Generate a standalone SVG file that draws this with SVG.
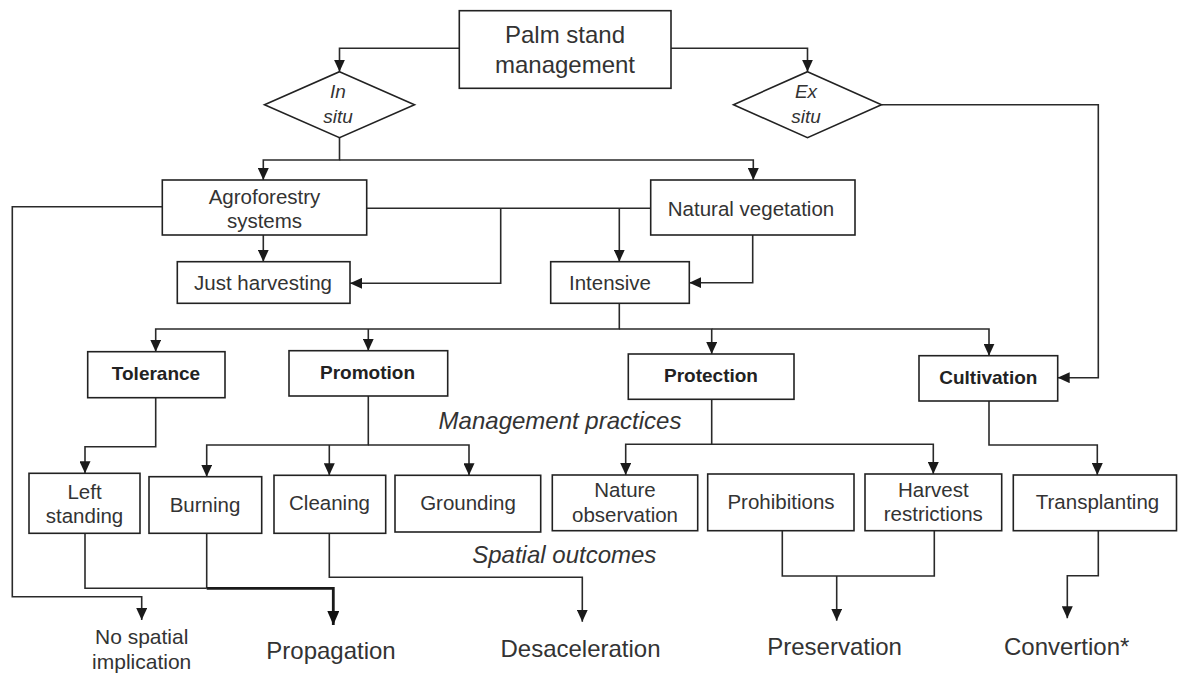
<svg xmlns="http://www.w3.org/2000/svg" width="1178" height="673" viewBox="0 0 1178 673">
<style>
  .box { fill: #ffffff; stroke: #222222; stroke-width: 1.6; }
  .t { font-family: "Liberation Sans", Arial, sans-serif; font-size: 20.5px; fill: #333333; text-anchor: middle; dominant-baseline: central; }
  .big { font-size: 24px; }
  .b { font-weight: bold; font-size: 19px; fill: #222222; }
  .it { font-style: italic; }
  .dm { font-size: 19px; }
  .lbl { font-size: 24px; font-style: italic; }
  .out { font-size: 24px; }
  .ns { font-size: 21px; }
  .c { fill: none; stroke: #2a2a2a; stroke-width: 1.6; }
  .ck { fill: none; stroke: #1a1a1a; stroke-width: 2.8; }
</style>
<defs>
  <marker id="ah" markerUnits="userSpaceOnUse" markerWidth="12" markerHeight="11" refX="12" refY="5.5" orient="auto">
    <path d="M0,0 L12,5.5 L0,11 z" fill="#1a1a1a"/>
  </marker>
  <marker id="ahk" markerUnits="userSpaceOnUse" markerWidth="14" markerHeight="12" refX="14" refY="6" orient="auto">
    <path d="M0,0 L14,6 L0,12 z" fill="#111111"/>
  </marker>
</defs>
<rect width="1178" height="673" fill="#ffffff"/>

<g id="connectors">
  <path class="c" d="M459.3,48.3 H339.5 V71.7" marker-end="url(#ah)"/>
  <path class="c" d="M671,48.3 H807.5 V71.7" marker-end="url(#ah)"/>
  <path class="c" d="M339.5,137.7 V160 H263.3 V180" marker-end="url(#ah)"/>
  <path class="c" d="M339.5,160 H753.3 V180" marker-end="url(#ah)"/>
  <path class="c" d="M881.5,104.7 H1098.3 V377.7 H1057.7" marker-end="url(#ah)"/>
  <path class="c" d="M263.3,235 V261.7" marker-end="url(#ah)"/>
  <path class="c" d="M162.3,206.7 H12.3 V596.7 H141.7 V620" marker-end="url(#ah)"/>
  <path class="c" d="M366.7,208.3 H650.7"/>
  <path class="c" d="M500.7,208.3 V283.3 H350" marker-end="url(#ah)"/>
  <path class="c" d="M619.3,208.3 V261.7" marker-end="url(#ah)"/>
  <path class="c" d="M752.7,235 V282.7 H689.3" marker-end="url(#ah)"/>
  <path class="c" d="M619.3,303.3 V329 H155.7 V351.7" marker-end="url(#ah)"/>
  <path class="c" d="M368.3,329 V350.7" marker-end="url(#ah)"/>
  <path class="c" d="M619.3,329 H711.7 V354" marker-end="url(#ah)"/>
  <path class="c" d="M711.7,329 H989 V355.7" marker-end="url(#ah)"/>
  <path class="c" d="M155.7,397.7 V446.7 H85 V473.3" marker-end="url(#ah)"/>
  <path class="c" d="M368.3,396 V445 H206.7 V476.7" marker-end="url(#ah)"/>
  <path class="c" d="M329.3,445 V475.3" marker-end="url(#ah)"/>
  <path class="c" d="M368.3,445 H469 V475.3" marker-end="url(#ah)"/>
  <path class="c" d="M711.7,399.3 V444.3 H625.7 V475" marker-end="url(#ah)"/>
  <path class="c" d="M711.7,444.3 H933.3 V474" marker-end="url(#ah)"/>
  <path class="c" d="M989,401 V445 H1097.3 V475" marker-end="url(#ah)"/>
  <path class="c" d="M85,533.3 V588.3 H206.7"/>
  <path class="c" d="M206.7,533.3 V588.3"/>
  <path class="ck" d="M206.7,588.3 H333.3 V625" marker-end="url(#ahk)"/>
  <path class="c" d="M329.3,533.3 V577.3 H582.3 V621.7" marker-end="url(#ah)"/>
  <path class="c" d="M782.3,530.7 V576 H934.3 V530.7"/>
  <path class="c" d="M836.7,576 V620.7" marker-end="url(#ah)"/>
  <path class="c" d="M1098.3,530.7 V575.7 H1067.3 V618.3" marker-end="url(#ah)"/>
</g>

<g id="palm">
  <rect class="box" x="459.3" y="10.7" width="211.7" height="77.6"/>
  <text class="t big" x="565" y="34.3">Palm stand</text>
  <text class="t big" x="565" y="64.3">management</text>
</g>
<g id="insitu">
  <polygon class="box" points="339.5,71.7 414.5,104.7 339.5,137.7 264.5,104.7"/>
  <text class="t it dm" x="338" y="91.7">In</text>
  <text class="t it dm" x="338" y="116.7">situ</text>
</g>
<g id="exsitu">
  <polygon class="box" points="807.5,71.7 881.5,104.7 807.5,137.7 733.5,104.7"/>
  <text class="t it dm" x="806" y="91.7">Ex</text>
  <text class="t it dm" x="806" y="116.7">situ</text>
</g>
<g id="agroforestry">
  <rect class="box" x="162.3" y="180" width="204.4" height="55"/>
  <text class="t" x="264.5" y="196">Agroforestry</text>
  <text class="t" x="264.5" y="220">systems</text>
</g>
<g id="natural">
  <rect class="box" x="650.7" y="180" width="204.3" height="55"/>
  <text class="t" x="751" y="208.3">Natural vegetation</text>
</g>
<g id="justharvesting">
  <rect class="box" x="177.3" y="261.7" width="172.7" height="41.6"/>
  <text class="t" x="263" y="282">Just harvesting</text>
</g>
<g id="intensive">
  <rect class="box" x="550.7" y="261.7" width="138.6" height="41.6"/>
  <text class="t" x="610" y="282">Intensive</text>
</g>
<g id="tolerance">
  <rect class="box" x="87.7" y="351.7" width="137.3" height="46"/>
  <text class="t b" x="156" y="373.5">Tolerance</text>
</g>
<g id="promotion">
  <rect class="box" x="289" y="350.7" width="158.7" height="45.3"/>
  <text class="t b" x="367.5" y="372.5">Promotion</text>
</g>
<g id="protection">
  <rect class="box" x="628.3" y="354" width="165.7" height="45.3"/>
  <text class="t b" x="711" y="375.5">Protection</text>
</g>
<g id="cultivation">
  <rect class="box" x="919" y="355.7" width="138.7" height="45.3"/>
  <text class="t b" x="988.3" y="377">Cultivation</text>
</g>
<g id="label-practices">
  <text class="t lbl" x="560" y="420.7">Management practices</text>
</g>
<g id="leftstanding">
  <rect class="box" x="29" y="473.3" width="111" height="60"/>
  <text class="t" x="84.5" y="491">Left</text>
  <text class="t" x="84.5" y="515">standing</text>
</g>
<g id="burning">
  <rect class="box" x="149" y="476.7" width="112.7" height="56.6"/>
  <text class="t" x="205" y="504">Burning</text>
</g>
<g id="cleaning">
  <rect class="box" x="274" y="475.3" width="111.7" height="58"/>
  <text class="t" x="329.5" y="502.7">Cleaning</text>
</g>
<g id="grounding">
  <rect class="box" x="395" y="475.3" width="145.7" height="56.7"/>
  <text class="t" x="468" y="502.7">Grounding</text>
</g>
<g id="natureobs">
  <rect class="box" x="552.3" y="475" width="145.4" height="55.7"/>
  <text class="t" x="625" y="489.3">Nature</text>
  <text class="t" x="625" y="514">observation</text>
</g>
<g id="prohibitions">
  <rect class="box" x="707.7" y="474" width="146.3" height="56.7"/>
  <text class="t" x="781" y="501.7">Prohibitions</text>
</g>
<g id="harvestrestrictions">
  <rect class="box" x="865" y="474" width="136.7" height="56.7"/>
  <text class="t" x="933.3" y="489.3">Harvest</text>
  <text class="t" x="933.3" y="513.3">restrictions</text>
</g>
<g id="transplanting">
  <rect class="box" x="1013.3" y="475" width="163.2" height="55.7"/>
  <text class="t" x="1097.5" y="501.7">Transplanting</text>
</g>
<g id="label-outcomes">
  <text class="t lbl" x="564.3" y="554">Spatial outcomes</text>
</g>
<g id="nospatial">
  <text class="t ns" x="141.7" y="636">No spatial</text>
  <text class="t ns" x="141.7" y="661">implication</text>
</g>
<g id="propagation">
  <text class="t out" x="331" y="650">Propagation</text>
</g>
<g id="desaceleration">
  <text class="t out" x="580.5" y="648">Desaceleration</text>
</g>
<g id="preservation">
  <text class="t out" x="834.6" y="646.7">Preservation</text>
</g>
<g id="convertion">
  <text class="t out" x="1066.7" y="646.7">Convertion*</text>
</g>
</svg>
